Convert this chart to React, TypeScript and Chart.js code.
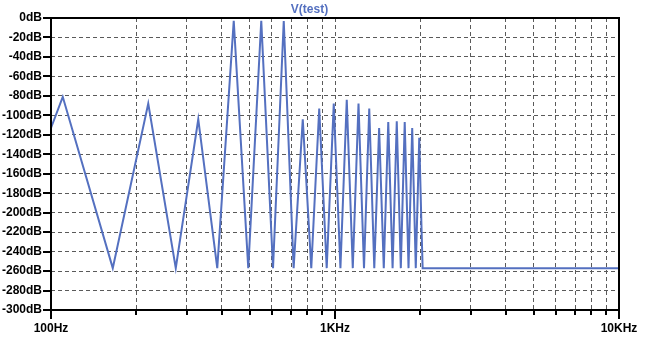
import React, { useEffect, useRef } from "react";
import { Chart, registerables } from "chart.js";

Chart.register(...registerables);

// FFT bins (Hz) and magnitude (dB)
const freqHz = [
  100, 110, 165, 220, 275, 330, 385, 440, 495, 550, 605, 660, 715, 770, 825,
  880, 935, 990, 1045, 1100, 1155, 1210, 1265, 1320, 1375, 1430, 1485, 1540,
  1595, 1650, 1705, 1760, 1815, 1870, 1925, 1980, 2015, 2035, 10000,
];
const levelDb = [
  -113, -81, -257, -88, -257, -104, -257, -3, -257, -3, -257, -3, -257, -104,
  -257, -93, -257, -88, -257, -84, -257, -88, -257, -93, -257, -113, -257,
  -107, -257, -106, -257, -107, -257, -113, -257, -123, -212, -257, -257,
];

const xTickValues = [
  100, 200, 300, 400, 500, 600, 700, 800, 900, 1000, 2000, 3000, 4000, 5000,
  6000, 7000, 8000, 9000, 10000,
];
const xMajorLabels: Record<number, string> = { 100: "100Hz", 1000: "1KHz", 10000: "10KHz" };
const yTickValues = [0, -20, -40, -60, -80, -100, -120, -140, -160, -180, -200, -220, -240, -260, -280, -300];

const seriesName = "V(test)";
const lineColor = "#5470c0";
const fontFamily = "'Liberation Sans', Arial, sans-serif";

const framePlugin = {
  id: "frame",
  afterDatasetsDraw(chart: any) {
    const { ctx, chartArea, scales } = chart;
    const { left, right, top, bottom } = chartArea;
    ctx.save();
    ctx.strokeStyle = "#000";
    ctx.lineWidth = 2;
    ctx.strokeRect(left, top, right - left, bottom - top);
    ctx.beginPath();
    for (const v of yTickValues) {
      const py = Math.round(scales.y.getPixelForValue(v));
      ctx.moveTo(left - 8, py);
      ctx.lineTo(left, py);
    }
    for (const v of xTickValues) {
      const px = Math.round(scales.x.getPixelForValue(v));
      const len = xMajorLabels[v] ? 9 : 5;
      ctx.moveTo(px, bottom);
      ctx.lineTo(px, bottom + len);
    }
    ctx.stroke();
    ctx.restore();
  },
};

export default function App() {
  const ref = useRef<HTMLCanvasElement | null>(null);
  useEffect(() => {
    if (!ref.current) return;
    const chart = new Chart(ref.current, {
      type: "line",
      data: {
        datasets: [
          {
            label: seriesName,
            data: freqHz.map((f, i) => ({ x: f, y: levelDb[i] })),
            borderColor: lineColor,
            borderWidth: 2,
            pointRadius: 0,
            tension: 0,
            fill: false,
          },
        ],
      },
      options: {
        responsive: false,
        animation: false,
        layout: { padding: { left: 0, right: 51, top: 0, bottom: 0 } },
        plugins: {
          legend: { display: false },
          tooltip: { enabled: false },
          title: {
            display: true,
            text: seriesName,
            color: lineColor,
            font: { family: fontFamily, size: 12, weight: "bold", lineHeight: 1.2 },
            padding: { top: 2, bottom: 1.6 },
          },
        },
        scales: {
          x: {
            type: "logarithmic",
            min: 100,
            max: 10000,
            afterBuildTicks: (scale: any) => {
              scale.ticks = xTickValues.map((value) => ({ value }));
            },
            afterFit: (scale: any) => {
              scale.height = 27;
              scale.paddingLeft = 0;
              scale.paddingRight = 0;
            },
            ticks: {
              autoSkip: false,
              maxRotation: 0,
              minRotation: 0,
              padding: 11,
              color: "#000",
              font: { family: fontFamily, size: 12, weight: "bold" },
              callback: (value: any) => xMajorLabels[Number(value)] ?? "",
            },
            grid: { color: "#5a5a5a", lineWidth: 1, drawTicks: false },
            border: { display: false, dash: [4, 3] },
          },
          y: {
            type: "linear",
            min: -300,
            max: 0,
            afterBuildTicks: (scale: any) => {
              scale.ticks = yTickValues.map((value) => ({ value }));
            },
            afterFit: (scale: any) => {
              scale.width = 51;
              scale.paddingTop = 0;
              scale.paddingBottom = 0;
            },
            ticks: {
              autoSkip: false,
              padding: 9,
              color: "#000",
              font: { family: fontFamily, size: 12, weight: "bold" },
              callback: (value: any) => `${value}dB`,
            },
            grid: { color: "#5a5a5a", lineWidth: 1, drawTicks: false },
            border: { display: false, dash: [4, 3] },
          },
        },
      },
      plugins: [framePlugin],
    });
    return () => chart.destroy();
  }, []);
  return (
    <div style={{ position: "absolute", left: 0, top: 0, width: 670, height: 337, background: "#fff" }}>
      <canvas ref={ref} width={670} height={337} style={{ display: "block" }} />
    </div>
  );
}
